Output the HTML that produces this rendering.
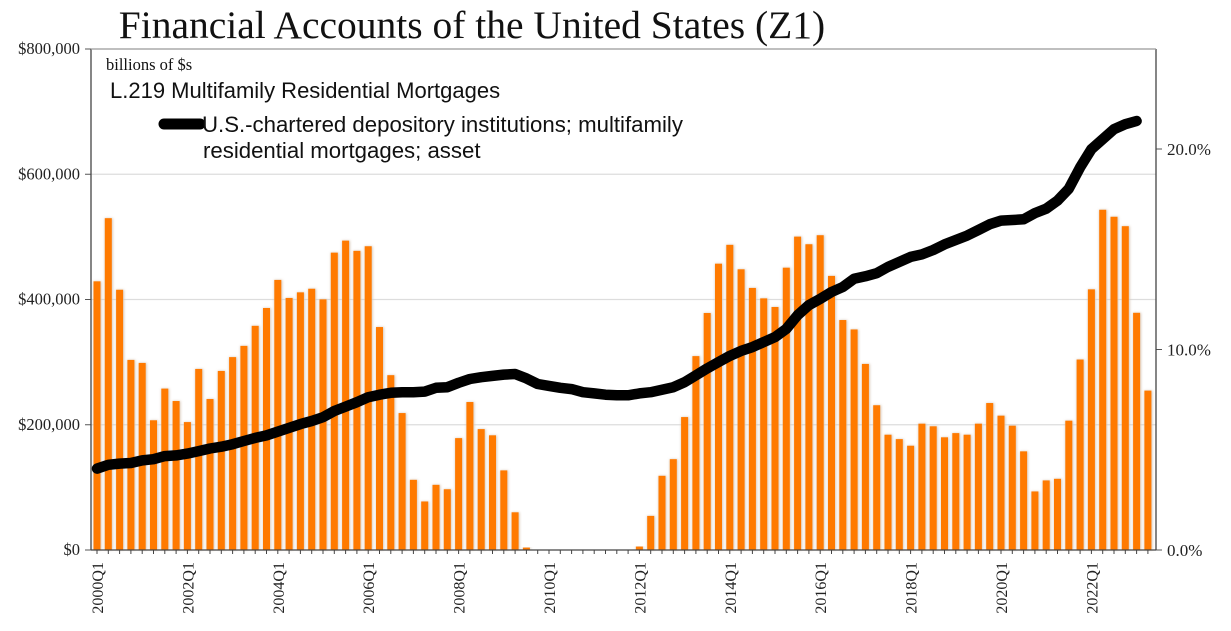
<!DOCTYPE html>
<html><head><meta charset="utf-8"><style>
html,body{margin:0;padding:0;background:#fff;}
svg{display:block;}
</style></head><body>
<svg id="chart" width="1231" height="631" viewBox="0 0 1231 631">
<defs><filter id="sh" x="-50%" y="-5%" width="200%" height="110%"><feGaussianBlur stdDeviation="1.2"/></filter></defs>
<text x="472" y="38" text-anchor="middle" font-family="Liberation Serif, serif" font-size="39.5" fill="#111">Financial Accounts of the United States (Z1)</text>
<g id="grid"></g>
<g id="bars"></g>
<g id="line"></g>
<g id="axes"></g>
<text x="106" y="70" font-family="Liberation Serif, serif" font-size="16.5" fill="#111">billions of $s</text>
<text x="110" y="98" font-family="Liberation Sans, sans-serif" font-size="22" fill="#111">L.219 Multifamily Residential Mortgages</text>
<line x1="164" y1="124" x2="200" y2="124" stroke="#000" stroke-width="11" stroke-linecap="round"/>
<text x="202" y="132" font-family="Liberation Sans, sans-serif" font-size="22.2" fill="#111">U.S.-chartered depository institutions; multifamily</text>
<text x="203" y="158" font-family="Liberation Sans, sans-serif" font-size="22.2" fill="#111">residential mortgages; asset</text>
</svg>
<script>
const quarterStart = 2000;
const barPct = [13.4,16.55,12.98,9.48,9.33,6.47,8.05,7.43,6.38,9.03,7.53,8.93,9.62,10.18,11.18,12.07,13.47,12.57,12.85,13.03,12.5,14.83,15.43,14.92,15.15,11.12,8.72,6.83,3.5,2.42,3.25,3.03,
5.58,7.38,6.03,5.72,3.97,1.88,0.12,0,0,0,0,0,0,0,0,0,0.17,1.7,3.7,4.53,6.63,9.67,11.82,14.28,15.22,14.0,13.07,12.55,12.12,14.08,15.63,
15.25,15.7,13.67,11.47,11.0,9.28,7.22,5.75,5.53,5.2,6.3,6.17,5.62,5.83,5.75,6.3,7.33,6.7,6.2,4.92,2.92,3.47,3.55,6.45,9.5,13.0,16.97,16.62,16.15,11.83,7.95];
const lineVal = [130,136,138,139,143,145,150,151,154,158,162,165,169,174,179,183,189,195,201,206,212,222,229,236,244,248,251,252,252,253,259,260,
267,273,276,278,280,281,274,265,262,259,257,252,250,248,247,247,250,252,256,260,268,279,290,300,310,318,324,332,340,353,375,
391,401,412,420,433,437,442,452,460,468,472,479,488,495,502,511,520,526,527,528,538,545,558,577,611,640,656,672,680,685];
const leftTicks = [0,200000,400000,600000,800000];
const leftTickLabels = ["$0","$200,000","$400,000","$600,000","$800,000"];
const rightTicks = [0,10,20];
const rightTickLabels = ["0.0%","10.0%","20.0%"];

const NS="http://www.w3.org/2000/svg";
const X0=91, X1=1156, Y0=550, YTOP=49, STEP=11.3, FIRST=97;
const xAt=i=>FIRST+i*STEP;
const yLeft=v=>Y0-(v/800000)*(Y0-YTOP);
const yRight=p=>Y0-p*20.05;
function mk(tag,attrs,parent){const e=document.createElementNS(NS,tag);for(const k in attrs)e.setAttribute(k,attrs[k]);parent.appendChild(e);return e;}
const grid=document.getElementById('grid'),bars=document.getElementById('bars'),lineG=document.getElementById('line'),axes=document.getElementById('axes');
leftTicks.forEach((t,i)=>{
  const y=yLeft(t);
  if(t>0&&t<800000){const g=mk('line',{x1:X0,x2:X1,y1:y,y2:y,stroke:'#ddd','stroke-width':1.2},grid);
  
  }
  const tk=mk('line',{x1:X0-6,x2:X0,y1:y,y2:y,stroke:'#555','stroke-width':1},axes);
  
  
  const tx=mk('text',{x:80,y:y+5,'text-anchor':'end','font-family':'Liberation Serif, serif','font-size':16.5,fill:'#222'},axes);
  tx.textContent=leftTickLabels[i];
  
  
});
rightTicks.forEach((t,i)=>{
  const y=yRight(t);
  const tk=mk('line',{x1:X1,x2:X1+6,y1:y,y2:y,stroke:'#555','stroke-width':1},axes);
  
  
  const tx=mk('text',{x:1167,y:y+6,'font-family':'Liberation Serif, serif','font-size':17,fill:'#222'},axes);
  tx.textContent=rightTickLabels[i];
  
  
});
barPct.forEach((p,i)=>{
  const x=xAt(i),y=yRight(p),h=Y0-y;
  if(h<=0)return;
  const s=mk('rect',{x:x-3.5,y:y,width:8,height:h,fill:'#d8c8b8',filter:'url(#sh)'},bars);
  
  
  const r=mk('rect',{x:x-3.5,y:y,width:7,height:h,fill:'#ff7a00'},bars);
  
  
});
let d='';
lineVal.forEach((v,i)=>{d+=(i?'L':'M')+xAt(i).toFixed(1)+','+yLeft(v*1000).toFixed(1);});
const pl=mk('path',{d:d,fill:'none',stroke:'#000','stroke-width':10.5,'stroke-linejoin':'round','stroke-linecap':'round'},lineG);


const ax=[['left-axis',X0,YTOP,X0,Y0],['right-axis',X1,YTOP,X1,Y0],['x-axis',X0,Y0,X1,Y0],['top-border',X0,YTOP,X1,YTOP]];
ax.forEach(a=>{const l=mk('line',{x1:a[1],y1:a[2],x2:a[3],y2:a[4],stroke:a[0]==='top-border'?'#999':'#444','stroke-width':1.3},axes);
  
  });
barPct.forEach((p,i)=>{
  const x=xAt(i);
  const t=mk('line',{x1:x,x2:x,y1:Y0,y2:Y0+4,stroke:'#444','stroke-width':1},axes);
  
  
  if(i%8===0){
    const yr=quarterStart+i/4;
    const tx=mk('text',{x:0,y:0,'text-anchor':'end','font-family':'Liberation Serif, serif','font-size':16,fill:'#222',transform:'translate('+(x+6)+','+(Y0+12)+') rotate(-90)'},axes);
    tx.textContent=yr+'Q1';
    
    
  }
});
</script>
</body></html>
